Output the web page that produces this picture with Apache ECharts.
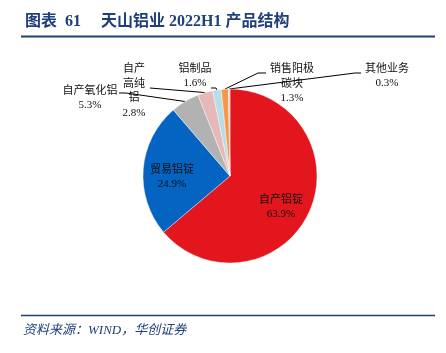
<!DOCTYPE html>
<html>
<head>
<meta charset="utf-8">
<script src="https://cdn.jsdelivr.net/npm/echarts@6/dist/echarts.min.js"></script>
<style>
html,body{margin:0;padding:0;background:#fff;}
#chart{width:446px;height:353px;}
</style>
</head>
<body>
<div id="chart"></div>
<script>
const categories = ['自产铝锭', '贸易铝锭', '自产氧化铝', '自产高纯铝', '铝制品', '销售阳极碳块', '其他业务'];
const shares = [63.9, 24.9, 5.3, 2.8, 1.6, 1.3, 0.3];
const colors = ['#E3161E', '#0563C1', '#B2B2B2', '#E6B9B8', '#B7DDE8', '#F79646', '#D9D9D9'];

// label placement (style only): centre of text block, knee/end of leader line
const labelPlaces = [
  { x: 281, y: 207, inside: true },
  { x: 172, y: 177, inside: true },
  { x: 90, y: 98, knee: [126, 93], end: [119, 93] },
  { x: 134, y: 91, knee: [150, 88], end: [150, 88] },
  { x: 195, y: 76, knee: [216, 88], end: [211, 88] },
  { x: 292, y: 84, knee: [258, 73], end: [266, 73] },
  { x: 387, y: 76, knee: [355, 73], end: [361, 73] }
];
const wrapWidths = [null, null, null, 24, null, 46, null];

const FONT = '"Liberation Serif", "Noto Sans CJK SC", serif';

const chart = echarts.init(document.getElementById('chart'), null, { renderer: 'canvas' });

const data = categories.map((name, i) => {
  const item = {
    name: name,
    value: shares[i],
    itemStyle: { color: colors[i] },
    label: {},
    labelLine: { show: !labelPlaces[i].inside }
  };
  if (labelPlaces[i].inside) {
    item.label.position = 'inside';
  } else {
    item.label.position = 'outside';
  }
  if (wrapWidths[i]) {
    item.label.width = wrapWidths[i];
    item.label.overflow = 'break';
  }
  return item;
});

chart.setOption({
  animation: false,
  title: {
    text: '图表  61     天山铝业 2022H1 产品结构',
    left: 20,
    top: 9,
    textStyle: {
      fontFamily: FONT,
      fontSize: 16,
      fontWeight: 'bold',
      color: '#1F3F7A'
    }
  },
  graphic: [
    { type: 'line', shape: { x1: 21, y1: 36.5, x2: 435, y2: 36.5 }, style: { stroke: '#1F3F7A', lineWidth: 2 } },
    { type: 'line', shape: { x1: 21, y1: 315.5, x2: 435, y2: 315.5 }, style: { stroke: '#1F3F7A', lineWidth: 1.5 } },
    {
      type: 'text', left: 23, top: 324,
      style: {
        text: '资料来源：WIND，华创证券',
        font: 'italic 13px "Liberation Serif", "Noto Sans CJK SC", serif',
        fill: '#1F3F7A'
      }
    }
  ],
  series: [{
    type: 'pie',
    center: [230, 176],
    radius: [0, 87],
    startAngle: 90,
    clockwise: true,
    avoidLabelOverlap: false,
    itemStyle: { borderColor: '#ffffff', borderWidth: 0.4 },
    label: {
      show: true,
      formatter: p => p.name + '\n' + p.value.toFixed(1) + '%',
      fontFamily: FONT,
      fontSize: 11,
      lineHeight: 14.5,
      color: '#111',
      align: 'center'
    },
    labelLine: {
      show: true,
      lineStyle: { color: '#000', width: 1 }
    },
    labelLayout: function (params) {
      const pl = labelPlaces[params.dataIndex];
      const out = {
        x: pl.x,
        y: pl.y,
        align: 'center',
        verticalAlign: 'middle'
      };
      if (!pl.inside && params.labelLinePoints) {
        const start = params.labelLinePoints[0];
        out.labelLinePoints = [start, pl.knee, pl.end];
      }
      return out;
    },
    data: data
  }]
});
</script>
</body>
</html>
